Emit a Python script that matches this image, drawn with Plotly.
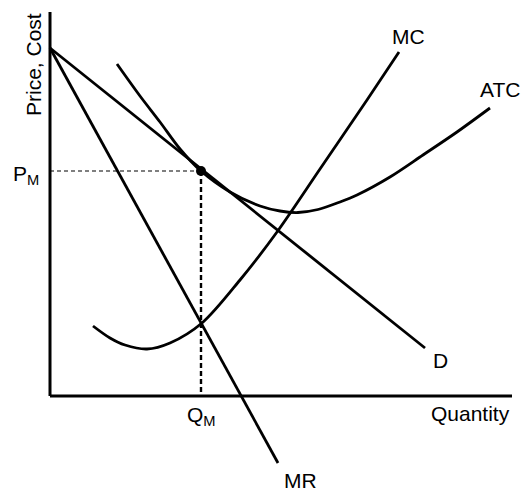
import plotly.graph_objects as go

# Chart units: horizontal = quantity, vertical = price/cost (arbitrary units)
axis_x_max = 462
axis_y_max = 384

demand_q = [0, 375]
demand_p = [348, 48]

mr_q = [0, 228]
mr_p = [348, -67]

mc_q = [43, 60, 75, 97, 120, 152, 190, 227, 270, 317, 349]
mc_p = [70, 58, 51, 47, 53, 73, 116, 164, 227, 296, 344]

atc_q = [67, 90, 110, 130, 151, 180, 210, 230, 248, 268, 290, 307, 340, 373, 407, 440]
atc_p = [332, 300, 274, 247, 225, 204, 190, 185, 183.5, 186.5, 194, 201, 219, 241, 264, 288]

qm = 151
pm = 225

curve_labels = ["MC", "ATC", "D", "MR"]
curve_label_q = [358, 449.5, 390, 250]
curve_label_p = [360, 306.5, 36, -84]

FONT = "Liberation Sans, Arial, Helvetica, sans-serif"
LW = 2.8

fig = go.Figure()

def line(q, p, width=LW, dash=None, shape="linear", smoothing=1.0):
    fig.add_trace(go.Scatter(x=q, y=p, mode="lines",
                             line=dict(color="black", width=width, dash=dash, shape=shape,
                                       smoothing=smoothing),
                             hoverinfo="skip", showlegend=False))

# axes
line([0, axis_x_max], [0, 0], width=3)
line([0, 0], [0, axis_y_max], width=3)

# dashed guides
line([0, qm], [pm, pm], width=1.2, dash="4px,3px")
line([qm, qm], [pm, 0], width=2.4, dash="5px,3px")

# curves
line(demand_q, demand_p)
line(mr_q, mr_p)
line(mc_q, mc_p, shape="spline", smoothing=0.9)
line(atc_q, atc_p, shape="spline", smoothing=0.9)

# optimum point
fig.add_trace(go.Scatter(x=[qm], y=[pm], mode="markers",
                         marker=dict(color="black", size=10),
                         hoverinfo="skip", showlegend=False))

annotations = []
for t, q, p in zip(curve_labels, curve_label_q, curve_label_p):
    annotations.append(dict(x=q, y=p, text=t, showarrow=False,
                            xanchor="center", yanchor="middle",
                            font=dict(family=FONT, size=21, color="black")))

annotations += [
    dict(x=420, y=-17, text="Quantity", showarrow=False, xanchor="center", yanchor="middle",
         font=dict(family=FONT, size=21, color="black")),
    dict(x=qm, y=-20, text="Q<sub>M</sub>", showarrow=False, xanchor="center", yanchor="middle",
         font=dict(family=FONT, size=21, color="black")),
    dict(x=-24, y=pm - 4, text="P<sub>M</sub>", showarrow=False, xanchor="center", yanchor="middle",
         font=dict(family=FONT, size=21, color="black")),
    dict(x=-17, y=331, text="Price, Cost", showarrow=False, textangle=-90,
         xanchor="center", yanchor="middle",
         font=dict(family=FONT, size=21, color="black")),
]

fig.update_layout(
    width=532, height=499, autosize=False,
    margin=dict(l=0, r=0, t=0, b=0),
    paper_bgcolor="white", plot_bgcolor="white",
    xaxis=dict(range=[-50, 482], visible=False, fixedrange=True),
    yaxis=dict(range=[-103, 396], visible=False, fixedrange=True),
    annotations=annotations,
    showlegend=False,
)

fig.write_html("out.html")
